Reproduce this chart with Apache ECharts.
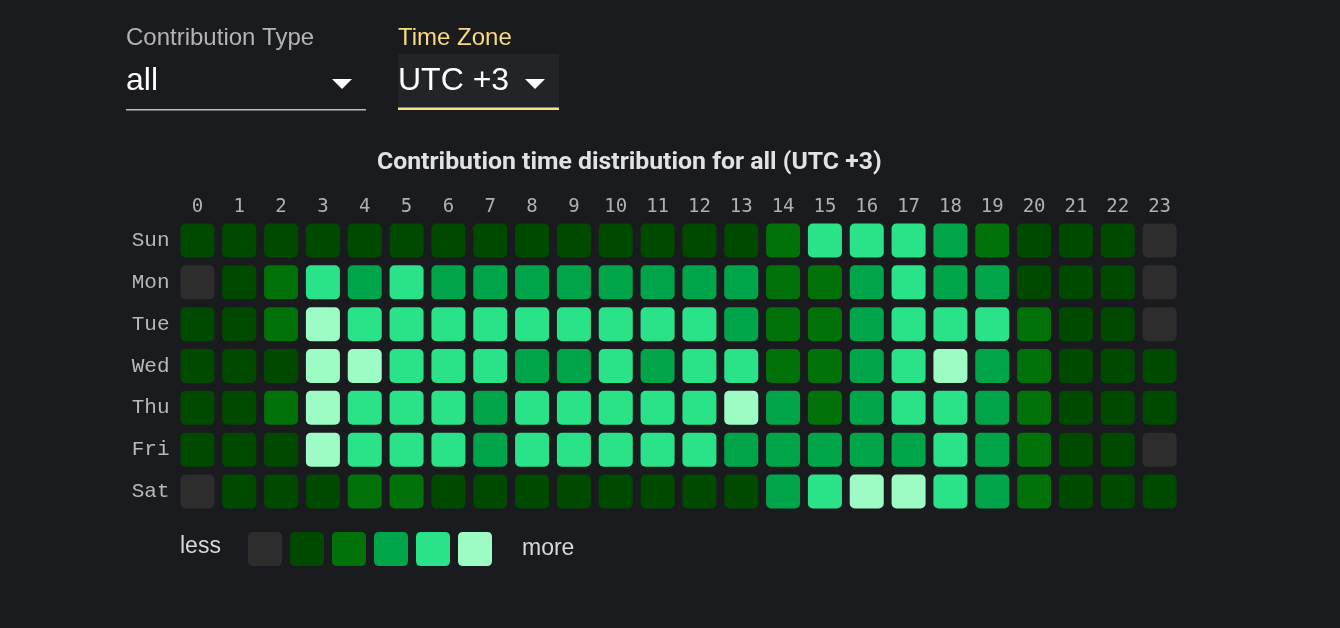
<!DOCTYPE html>
<html><head><meta charset="utf-8">
<script src="https://cdn.jsdelivr.net/npm/echarts@6/dist/echarts.min.js"></script>
<style>html,body{margin:0;padding:0;background:#1a1b1e;}#c{width:1340px;height:628px;}</style>
</head><body><div id="c"></div>
<script>
const hours = ['0','1','2','3','4','5','6','7','8','9','10','11','12','13','14','15','16','17','18','19','20','21','22','23'];
const days = ['Sun','Mon','Tue','Wed','Thu','Fri','Sat'];
// activity level (0 = none ... 5 = most) per hour
const sun = [1,1,1,1,1,1,1,1,1,1,1,1,1,1,2,4,4,4,3,2,1,1,1,0];
const mon = [0,1,2,4,3,4,3,3,3,3,3,3,3,3,2,2,3,4,3,3,1,1,1,0];
const tue = [1,1,2,5,4,4,4,4,4,4,4,4,4,3,2,2,3,4,4,4,2,1,1,0];
const wed = [1,1,1,5,5,4,4,4,3,3,4,3,4,4,2,2,3,4,5,3,2,1,1,1];
const thu = [1,1,2,5,4,4,4,3,4,4,4,4,4,5,3,2,3,4,4,3,2,1,1,1];
const fri = [1,1,1,5,4,4,4,3,4,4,4,4,4,3,3,3,3,3,4,3,2,1,1,0];
const sat = [0,1,1,1,2,2,1,1,1,1,1,1,1,1,3,4,5,5,4,3,2,1,1,1];
const levelColors = ['#2d2d2e','#004a00','#007209','#00a54a','#2ae287','#9dfbc4'];
const legendLow = 'less';
const legendHigh = 'more';
const titleText = 'Contribution time distribution for all (UTC +3)';

const rows = [sun, mon, tue, wed, thu, fri, sat];
const data = [];
rows.forEach((r, d) => r.forEach((v, h) => data.push([h, d, v])));

const chart = echarts.init(document.getElementById('c'));
const rr = 'path://M5,0H29Q34,0,34,5V29Q34,34,29,34H5Q0,34,0,29V5Q0,0,5,0Z';
chart.setOption({
  backgroundColor: '#1a1b1e',
  animation: false,
  title: {
    text: titleText, left: 372, top: 145,
    textStyle: {color: '#e2e2e2', fontSize: 24.8, fontWeight: 'bold', fontFamily: 'Roboto'}
  },
  grid: {left: 176.5, top: 219.6, width: 1004, height: 292.8},
  xAxis: {
    type: 'category', position: 'top', data: hours,
    axisLine: {show: false}, axisTick: {show: false}, splitLine: {show: false},
    axisLabel: {color: '#b0b0b0', fontSize: 19, fontFamily: 'DejaVu Sans Mono', margin: 3}
  },
  yAxis: {
    type: 'category', inverse: true, data: days,
    axisLine: {show: false}, axisTick: {show: false}, splitLine: {show: false},
    axisLabel: {color: '#b8b8b8', fontSize: 21, fontFamily: 'Liberation Mono', margin: 7}
  },
  visualMap: {
    type: 'piecewise', orient: 'horizontal', left: 248, top: 532, padding: 0,
    itemWidth: 34, itemHeight: 34, itemGap: 8, itemSymbol: rr, showLabel: false,
    selectedMode: false, dimension: 2, seriesIndex: 0,
    pieces: levelColors.map((c, i) => ({value: i, color: c}))
  },
  series: [{
    type: 'custom',
    data: data,
    encode: {x: 0, y: 1},
    renderItem: function (params, api) {
      const p = api.coord([api.value(0), api.value(1)]);
      const sz = api.size([1, 1]);
      const w = sz[0] * 0.813, h = sz[1] * 0.813;
      return {type: 'rect', shape: {x: p[0] - w / 2, y: p[1] - h / 2, width: w, height: h, r: 5},
        style: {fill: api.visual('color')}};
    }
  }],
  graphic: [
    {type: 'text', left: 126, top: 26, style: {text: 'Contribution Type', fill: '#b3b3b3', font: '24px "Liberation Sans"'}},
    {type: 'text', left: 126, top: 65, style: {text: 'all', fill: '#ffffff', font: '32px "Liberation Sans"'}},
    {type: 'polygon', shape: {points: [[332, 79], [352, 79], [342, 89]]}, style: {fill: '#ffffff'}},
    {type: 'rect', shape: {x: 126, y: 109, width: 240, height: 1.5}, style: {fill: '#bdbdbd'}},
    {type: 'text', left: 398, top: 26, style: {text: 'Time Zone', fill: '#f6da7f', font: '24px "Liberation Sans"'}},
    {type: 'rect', shape: {x: 398, y: 54, width: 161, height: 56}, style: {fill: '#232427'}},
    {type: 'rect', shape: {x: 398, y: 107.5, width: 161, height: 2.5}, style: {fill: '#fde283'}},
    {type: 'text', left: 398, top: 65, style: {text: 'UTC +3', fill: '#ffffff', font: '32px "Liberation Sans"'}},
    {type: 'polygon', shape: {points: [[525, 79], [545, 79], [535, 89]]}, style: {fill: '#ffffff'}},
    {type: 'text', left: 180, top: 535, style: {text: legendLow, fill: '#d8d8d8', font: '23px "Liberation Sans"'}},
    {type: 'text', left: 522, top: 537, style: {text: legendHigh, fill: '#d8d8d8', font: '23px "Liberation Sans"'}}
  ]
});
</script></body></html>
